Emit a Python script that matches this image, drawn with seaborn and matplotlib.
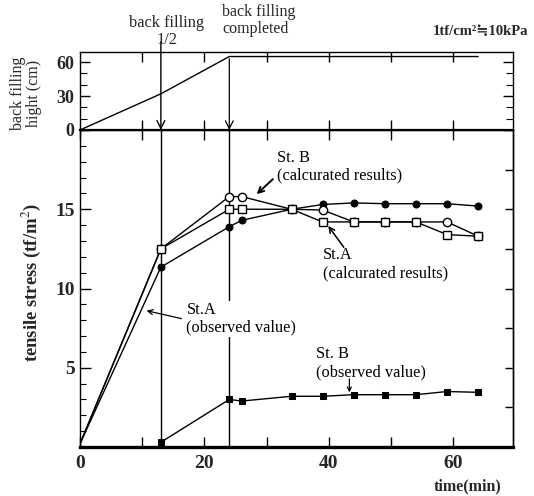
import numpy as np
import pandas as pd
import matplotlib
matplotlib.use("Agg")
import matplotlib.pyplot as plt
from matplotlib.ticker import FixedLocator, MultipleLocator
import seaborn as sns

sns.set_theme(style="ticks")
plt.rcParams['font.family'] = ['Liberation Serif', 'DejaVu Serif']
plt.rcParams['mathtext.fontset'] = 'stix'

# ---------------- data ----------------
fill_time = [0, 13, 24, 64]
fill_height = [0, 32, 65, 65]

time_calc = [0, 13, 24, 26, 34, 39, 44, 49, 54, 59, 64]
stA_calc = [0.2, 12.5, 15.0, 15.0, 15.0, 14.2, 14.2, 14.2, 14.2, 13.4, 13.3]
stB_calc = [0.2, 12.5, 15.8, 15.8, 15.0, 14.95, 14.2, 14.2, 14.2, 14.2, 13.3]
stA_obs = [0.2, 11.35, 13.9, 14.3, 15.0, 15.3, 15.4, 15.35, 15.35, 15.35, 15.2]

time_obsB = [13, 24, 26, 34, 39, 44, 49, 54, 59, 64]
stB_obs = [0.3, 3.0, 2.9, 3.2, 3.2, 3.3, 3.3, 3.3, 3.5, 3.45]

x_tick_labels = ["0", "20", "40", "60"]
y_tick_labels = ["5", "10", "15"]
top_tick_labels = ["0", "30", "60"]
event_times = [13, 24]

# ---------------- figure ----------------
W, H = 534, 496
fig = plt.figure(figsize=(W / 100, H / 100), dpi=100)
fig.patch.set_facecolor('white')

def fx(px):
    return px / W

def fy(py):
    return 1 - py / H

XL, XR = 80, 513
ax = fig.add_axes([fx(XL), fy(447), fx(XR) - fx(XL), fy(130) - fy(447)])
axt = fig.add_axes([fx(XL), fy(130), fx(XR) - fx(XL), fy(52) - fy(130)])

XMAX = 69.6
for a in (ax, axt):
    a.set_facecolor('white')
    a.set_xlim(0, XMAX)
    for s in a.spines.values():
        s.set_color('black')
        s.set_linewidth(1.0)
ax.set_ylim(0, 20)
axt.set_ylim(0, 69)
ax.spines['bottom'].set_linewidth(2.4)
axt.spines['bottom'].set_linewidth(1.6)

# ---------------- top panel ----------------
df_fill = pd.DataFrame({'t': fill_time, 'h': fill_height})
sns.lineplot(data=df_fill, x='t', y='h', ax=axt, color='black', lw=1.0)

axt.annotate('', xy=(event_times[0], 0), xytext=(event_times[0], 78),
             xycoords='data', textcoords='data', annotation_clip=False,
             arrowprops=dict(arrowstyle='->', lw=1.0, color='black',
                             mutation_scale=14, shrinkA=0, shrinkB=0))
axt.annotate('', xy=(event_times[1], 0), xytext=(event_times[1], 63),
             xycoords='data', textcoords='data', annotation_clip=False,
             arrowprops=dict(arrowstyle='->', lw=0.9, color='black',
                             mutation_scale=14, shrinkA=0, shrinkB=0))

axt.xaxis.set_major_locator(FixedLocator([10, 20, 30, 40, 50, 60]))
axt.yaxis.set_major_locator(FixedLocator([0, 30, 60]))
axt.yaxis.set_minor_locator(FixedLocator([10, 20, 40, 50]))
axt.set_yticklabels(top_tick_labels)
axt.tick_params(axis='x', which='both', direction='in', top=True, bottom=True,
                labelbottom=False, length=7, width=1.0, color='black')
axt.tick_params(axis='y', which='major', direction='in', left=True, right=True,
                length=7, width=1.0, color='black', labelsize=13, pad=4)
axt.tick_params(axis='y', which='minor', direction='in', left=True, right=True,
                length=5, width=0.8, color='black')
for lab in axt.get_yticklabels():
    lab.set_fontweight('bold')
axt.set_xlabel('')
axt.set_ylabel('')

# ---------------- main panel ----------------
df_A = pd.DataFrame({'t': time_calc, 'v': stA_calc})
df_B = pd.DataFrame({'t': time_calc, 'v': stB_calc})
df_Ao = pd.DataFrame({'t': time_calc, 'v': stA_obs})
df_Bo = pd.DataFrame({'t': time_obsB, 'v': stB_obs})

for tt in event_times:
    ax.axvline(tt, color='black', lw=1.0, zorder=1)

skip_first = list(range(1, len(time_calc)))
sns.lineplot(data=df_Ao, x='t', y='v', ax=ax, color='black', lw=1.0,
             marker='o', markersize=5, markerfacecolor='black',
             markeredgecolor='black', markevery=skip_first, zorder=3)
sns.lineplot(data=df_B, x='t', y='v', ax=ax, color='black', lw=1.0,
             marker='o', markersize=6, markerfacecolor='white',
             markeredgecolor='black', markeredgewidth=1.0,
             markevery=skip_first, zorder=4)
sns.lineplot(data=df_A, x='t', y='v', ax=ax, color='black', lw=1.0,
             marker='s', markersize=5.5, markerfacecolor='white',
             markeredgecolor='black', markeredgewidth=1.0,
             markevery=skip_first, zorder=5)
sns.lineplot(data=df_Bo, x='t', y='v', ax=ax, color='black', lw=1.0,
             marker='s', markersize=5, markerfacecolor='black',
             markeredgecolor='black', zorder=3, clip_on=False)

ax.xaxis.set_major_locator(FixedLocator([0, 20, 40, 60]))
ax.xaxis.set_minor_locator(FixedLocator([10, 30, 50]))
ax.set_xticklabels(x_tick_labels)
ax.yaxis.set_major_locator(FixedLocator([5, 10, 15]))
ax.yaxis.set_minor_locator(MultipleLocator(1))
ax.set_yticklabels(y_tick_labels)
ax.tick_params(axis='x', which='both', direction='in', top=True, bottom=True,
               length=7, width=1.0, color='black', labelsize=14, pad=6)
ax.tick_params(axis='y', which='major', direction='in', left=True, right=False,
               length=8, width=1.0, color='black', labelsize=14, pad=4)
ax.tick_params(axis='y', which='minor', direction='in', left=True, right=False,
               length=4, width=0.8, color='black')
for lab in ax.get_xticklabels() + ax.get_yticklabels():
    lab.set_fontweight('bold')
ax.set_xlabel('')
ax.set_ylabel('')

sec = ax.secondary_yaxis('right')
sec.set_yticks(np.arange(2.5, 20, 2.5))
sec.tick_params(direction='in', length=6, width=1.0, labelright=False, color='black')
sec.spines['right'].set_linewidth(1.0)
sec.spines['right'].set_color('black')

# annotations in main panel
fs = 11.8
ax.text(31.7, 18.75, "St. B\n(calcurated results)", fontsize=fs, ha='left',
        va='top', linespacing=1.15, color='black')
ax.annotate('', xy=(28.4, 15.95), xytext=(31.0, 16.9),
            arrowprops=dict(arrowstyle='->', lw=1.4, color='black',
                            mutation_scale=10, shrinkA=0, shrinkB=0))

ax.text(39.0, 12.6, "St.A\n(calcurated results)", fontsize=fs, ha='left',
        va='top', linespacing=1.15, color='black')
ax.annotate('', xy=(39.9, 13.95), xytext=(42.4, 12.6),
            arrowprops=dict(arrowstyle='->', lw=1.1, color='black',
                            mutation_scale=10, shrinkA=0, shrinkB=0))

ax.text(17.1, 9.15, "St.A\n(observed value)", fontsize=fs, ha='left',
        va='top', linespacing=1.15, color='black', zorder=6,
        bbox=dict(facecolor='white', edgecolor='none', pad=1.0))
ax.annotate('', xy=(10.7, 8.6), xytext=(16.3, 8.1),
            arrowprops=dict(arrowstyle='->', lw=0.9, color='black',
                            mutation_scale=9, shrinkA=0, shrinkB=0))

ax.text(38.0, 6.35, "St. B\n(observed value)", fontsize=fs, ha='left',
        va='top', linespacing=1.15, color='black')
ax.annotate('', xy=(43.3, 3.45), xytext=(43.3, 4.3),
            arrowprops=dict(arrowstyle='->', lw=0.9, color='black',
                            mutation_scale=7, shrinkA=0, shrinkB=0))

# ---------------- figure texts ----------------
fig.text(fx(167), fy(15), "back filling\n1/2", fontsize=11.8, ha='center',
         va='top', linespacing=1.1, multialignment='center')
fig.text(fx(222), fy(4), "back filling\ncompleted", fontsize=11.5, ha='left',
         va='top', linespacing=1.1)
fig.text(fx(528), fy(31), "1tf/cm²≒10kPa", fontsize=10.5, ha='right',
         va='center', fontweight='bold')
fig.text(fx(26), fy(93), "back filling\nhight (cm)", fontsize=11.5,
         rotation=90, ha='center', va='center', linespacing=1.05,
         multialignment='center')
fig.text(fx(31), fy(283), "tensile stress (tf/m$^2$)", fontsize=13.4,
         rotation=90, ha='center', va='center', fontweight='bold')
fig.text(fx(468), fy(486), "time(min)", fontsize=11.5, ha='center',
         va='center', fontweight='bold')

fig.savefig('out.png', dpi=100, facecolor='white')
